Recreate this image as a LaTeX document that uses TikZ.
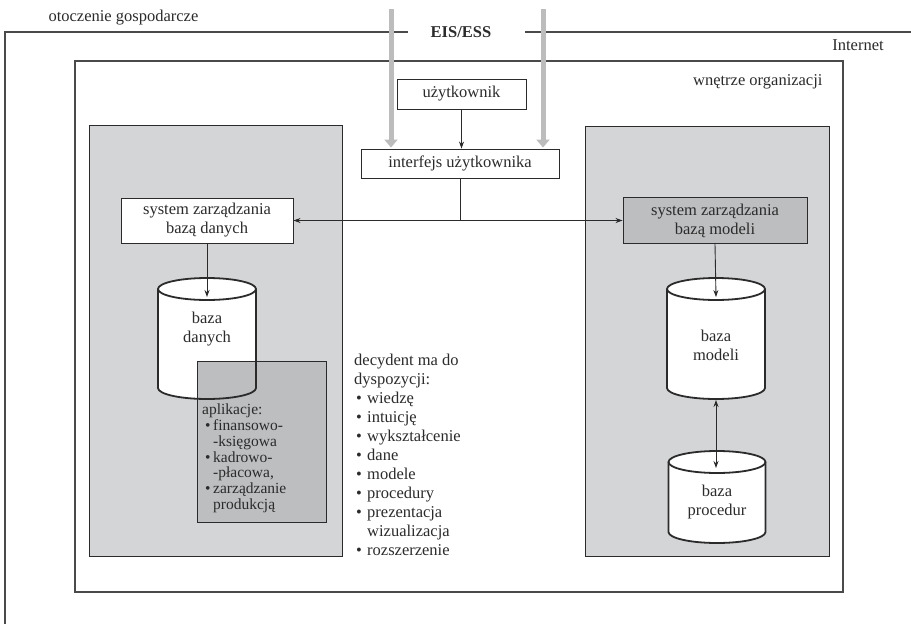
\documentclass[tikz,border=0pt]{standalone}
\usepackage{fontspec}
\setmainfont{Liberation Serif}
\usetikzlibrary{arrows.meta}

\definecolor{panel}{HTML}{D4D5D7}
\definecolor{darkpanel}{HTML}{BDBEC0}
\definecolor{ink}{HTML}{2B2B2B}
\definecolor{frameline}{HTML}{4A4A4A}
\definecolor{eisgray}{HTML}{BCBCBC}

% list bullets and hanging indents
\newcommand\itm{\hspace*{2pt}\makebox[11pt][l]{\textbullet}}
\newcommand\hang{\hspace*{13pt}}
\newcommand\appitm{\hspace*{3pt}\makebox[8pt][l]{\textbullet}}
\newcommand\apphang{\hspace*{11pt}}

% cylinder pieces: centre x, top-ellipse y, bottom-ellipse y, x radius, y radius
\newcommand\cylfill[5]{%
  \fill[white] ({#1-#4},#2) -- ({#1-#4},#3)
    arc[start angle=180,end angle=0,x radius=#4,y radius=#5]
    -- ({#1+#4},#2)
    arc[start angle=0,end angle=-180,x radius=#4,y radius=#5] -- cycle;}
\newcommand\cylline[5]{%
  \draw[cylstroke] ({#1-#4},#2) -- ({#1-#4},#3)
    arc[start angle=180,end angle=0,x radius=#4,y radius=#5]
    -- ({#1+#4},#2)
    arc[start angle=0,end angle=-180,x radius=#4,y radius=#5] -- cycle;
  \draw[cylstroke] ({#1-#4},#2)
    arc[start angle=180,end angle=0,x radius=#4,y radius=#5];}

\begin{document}
\begin{tikzpicture}[x=1pt,y=-1pt,
  txt/.style={font=\fontsize{16.5}{19}\selectfont, text=ink},
  apptxt/.style={font=\fontsize{15.5}{15.7}\selectfont, text=ink},
  box/.style={txt, draw=ink, line width=0.9pt, fill=white, align=center, inner sep=0pt},
  darkbox/.style={box, fill=darkpanel},
  frame/.style={draw=frameline, line width=1.3pt},
  panelbox/.style={fill=panel, draw=ink, line width=0.9pt},
  cylstroke/.style={draw=ink, line width=1.8pt, line join=round},
  conn/.style={draw=ink, line width=0.9pt, -{Stealth[length=7pt,width=5pt]}},
  biconn/.style={draw=ink, line width=0.9pt, {Stealth[length=7pt,width=5pt]}-{Stealth[length=7pt,width=5pt]}},
  eisarrow/.style={draw=eisgray, line width=5pt, -{Triangle[width=13pt,length=8pt]}}
]
\useasboundingbox (0,0) rectangle (911,624);

% outer environment (Internet)
\draw[frame] (5,624) -- (5,32) -- (408,32);
\draw[frame] (525,32) -- (911,32);
\node[txt, anchor=west] (env) at (45,18) {otoczenie gospodarcze};
\node[txt, font=\fontsize{16.5}{19}\selectfont\bfseries] (eis) at (461,32) {EIS/ESS};
\node[txt] (inet) at (858,45) {Internet};

% organisation interior
\draw[frame] (75,61) rectangle (843,592);
\node[txt, anchor=east] (org) at (826,82) {wnętrze organizacji};

% grey panels
\draw[panelbox] (89,125) rectangle (342,556);
\draw[panelbox] (585,126) rectangle (829,556);

% user and interface
\node[box, minimum width=129pt, minimum height=30pt] (user) at (461.5,94) {użytkownik};
\node[box, minimum width=198pt, minimum height=29pt] (ui) at (460,163.5) {interfejs użytkownika};

% management systems
\node[box, minimum width=172pt, minimum height=45pt] (dbms) at (207,220.5)
  {system zarządzania\\bazą danych};
\node[darkbox, minimum width=184pt, minimum height=46pt] (mbms) at (715,220.5)
  {system zarządzania\\bazą modeli};

% database cylinder, overlapped by the applications box
\cylfill{207}{289}{388}{49}{11}
\node[darkbox, minimum width=129pt, minimum height=161pt] (apps) at (261.5,441.5) {};
\cylline{207}{289}{388}{49}{11}
\node[txt, align=center] (db) at (207,329) {baza\\danych};
\coordinate (dbtop) at (207,297);

\node[apptxt, align=left, anchor=north west, inner sep=0pt] (appstext) at (202,404)
  {aplikacje:\\
   \appitm finansowo-\\
   \apphang -księgowa\\
   \appitm kadrowo-\\
   \apphang -płacowa,\\
   \appitm zarządzanie\\
   \apphang produkcją};

% model base and procedure base
\cylfill{716}{289}{388}{49}{11}
\cylline{716}{289}{388}{49}{11}
\node[txt, align=center] (mb) at (716,345) {baza\\modeli};
\coordinate (mbtop) at (716,297);
\coordinate (mbbot) at (716,400);

\cylfill{717}{462}{532}{48.5}{11}
\cylline{717}{462}{532}{48.5}{11}
\node[txt, align=center] (pb) at (717,502) {baza\\procedur};
\coordinate (pbtop) at (716,468);

% decision maker resources
\node[txt, align=left, anchor=north west, inner sep=0pt] (res) at (354,353.5)
  {decydent ma do\\
   dyspozycji:\\
   \itm wiedzę\\
   \itm intuicję\\
   \itm wykształcenie\\
   \itm dane\\
   \itm modele\\
   \itm procedury\\
   \itm prezentacja\\
   \hang wizualizacja\\
   \itm rozszerzenie};

% connectors
\draw[conn] (user.south) -- (user.south |- ui.north);
\coordinate (junction) at (ui.south |- dbms.east);
\draw[draw=ink, line width=0.9pt] (ui.south) -- (junction);
\draw[biconn] (dbms.east) -- (mbms.west);
\draw[conn] (dbms.south) -- (dbtop);
\draw[conn] (mbms.south) -- (mbtop);
\draw[biconn] (mbbot) -- (pbtop);

% EIS/ESS flows entering the interface
\coordinate (eisL) at (391,9);
\coordinate (eisR) at (543,9);
\draw[eisarrow] (eisL) -- ([yshift=1pt]eisL |- ui.north);
\draw[eisarrow] (eisR) -- ([yshift=1pt]eisR |- ui.north);
\end{tikzpicture}
\end{document}
